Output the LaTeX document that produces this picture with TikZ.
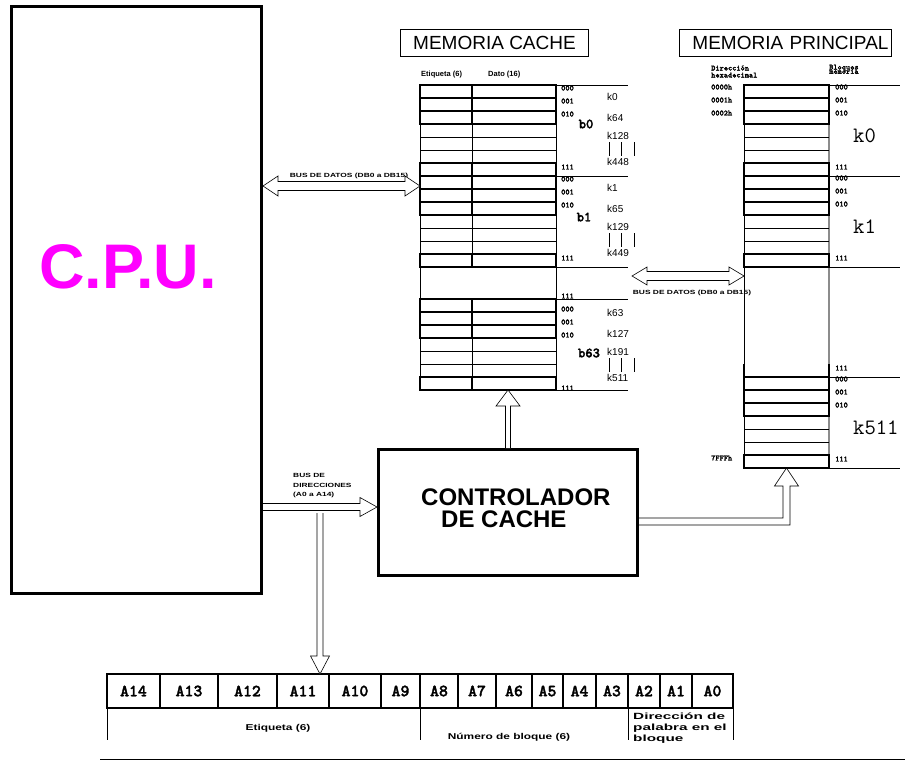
\documentclass[tikz,border=0pt]{standalone}
\usepackage{fontspec}
\setmainfont{Liberation Sans}
\newfontfamily\widesf[FakeStretch=1.4]{Liberation Sans}
\newfontfamily\widersf[FakeStretch=1.7]{Liberation Sans}
\newfontfamily\monobf[FakeBold=2]{lmmonolt10-bold.otf}
\usepackage{tikz}
\usetikzlibrary{calc}
\usetikzlibrary{positioning}

\definecolor{cpupink}{RGB}{255,0,255}
\definecolor{edgegray}{RGB}{140,140,140}

\newcommand{\fatS}{3pt}
\newcommand{\fatH}{9pt}
\newcommand{\fatL}{16pt}

\tikzset{
  fatshaft/.store in=\fatS,
  fathead/.store in=\fatH,
  fatlen/.store in=\fatL,
  % hollow bus arrows
  fatright/.style={to path={let \p1=(\tikztostart), \p2=(\tikztotarget) in
    (\x1,\y1+\fatS) -- (\x2-\fatL,\y1+\fatS) -- (\x2-\fatL,\y1+\fatH)
    -- (\x2,\y1) -- (\x2-\fatL,\y1-\fatH) -- (\x2-\fatL,\y1-\fatS) -- (\x1,\y1-\fatS)}},
  fatboth/.style={to path={let \p1=(\tikztostart), \p2=(\tikztotarget) in
    (\x1,\y1) -- (\x1+\fatL,\y1+\fatH) -- (\x1+\fatL,\y1+\fatS) -- (\x2-\fatL,\y1+\fatS)
    -- (\x2-\fatL,\y1+\fatH) -- (\x2,\y1) -- (\x2-\fatL,\y1-\fatH) -- (\x2-\fatL,\y1-\fatS)
    -- (\x1+\fatL,\y1-\fatS) -- (\x1+\fatL,\y1-\fatH) -- cycle}},
  fatup/.style={to path={let \p1=(\tikztostart), \p2=(\tikztotarget) in
    (\x1-\fatS,\y1) -- (\x1-\fatS,\y2-\fatL) -- (\x1-\fatH,\y2-\fatL) -- (\x1,\y2)
    -- (\x1+\fatH,\y2-\fatL) -- (\x1+\fatS,\y2-\fatL) -- (\x1+\fatS,\y1)}},
  fatdown/.style={to path={let \p1=(\tikztostart), \p2=(\tikztotarget) in
    (\x1-\fatS,\y1) -- (\x1-\fatS,\y2+\fatL) -- (\x1-\fatH,\y2+\fatL) -- (\x1,\y2)
    -- (\x1+\fatH,\y2+\fatL) -- (\x1+\fatS,\y2+\fatL) -- (\x1+\fatS,\y1)}},
  fatbend/.style={to path={let \p1=(\tikztostart), \p2=(\tikztotarget) in
    (\x1,\y1+\fatS) -- (\x2-\fatS,\y1+\fatS) -- (\x2-\fatS,\y2-\fatL) -- (\x2-\fatH,\y2-\fatL)
    -- (\x2,\y2) -- (\x2+\fatH,\y2-\fatL) -- (\x2+\fatS,\y2-\fatL) -- (\x2+\fatS,\y1-\fatS)
    -- (\x1,\y1-\fatS)}}
}

\begin{document}
\begin{tikzpicture}[x=1pt, y=-1pt,
  box/.style={draw, line width=3pt, inner sep=0pt},
  area/.style={inner sep=0pt, outer sep=0pt},
  titlebox/.style={draw, line width=1pt, minimum height=27pt, inner sep=3pt,
    font=\fontsize{19}{22}\selectfont},
  hdr/.style={inner sep=0pt, anchor=west, font=\bfseries\fontsize{7.5}{9}\selectfont},
  buslbl/.style={inner sep=0pt, font=\widesf\bfseries\fontsize{6}{9.5}\selectfont},
  word/.style={inner sep=0pt, anchor=west, font=\monobf\fontsize{8}{7}\selectfont},
  klbl/.style={inner sep=0pt, anchor=west, font=\fontsize{10}{12}\selectfont},
  blbl/.style={inner sep=0pt, font=\monobf\fontsize{14}{14}\selectfont},
  kbig/.style={inner sep=0pt, anchor=west, font=\ttfamily\fontsize{22}{22}\selectfont},
  regcell/.style={draw, line width=1.2pt, inner sep=0pt, outer sep=0pt, minimum height=34pt,
    font=\monobf\fontsize{17}{17}\selectfont},
  field/.style={inner sep=0pt, font=\widesf\bfseries\fontsize{8.5}{10}\selectfont},
  thinline/.style={line width=0.7pt},
  thickline/.style={line width=1.6pt},
  grayline/.style={line width=1.8pt, draw=edgegray},
  fatarrow/.style={draw, line width=0.6pt, fill=white, line join=miter}
]
\useasboundingbox (0,0) rectangle (908,760);

% CPU
\node[box, minimum width=250pt, minimum height=587pt, anchor=north west] (cpu) at (10,5) {};
\node[font=\bfseries\fontsize{63}{63}\selectfont, text=cpupink, inner sep=0pt] (cpulbl) at (128,267) {C.P.U.};

% titles
\node[titlebox, minimum width=188pt, anchor=north west] (cachetitle) at (400,29) {MEMORIA CACHE};
\node[titlebox, minimum width=212pt, text width=206pt, align=right, anchor=north west] (maintitle) at (679,29) {MEMORIA PRINCIPAL};

% cache memory
\node[area, minimum width=136pt, minimum height=305pt, anchor=north west] (cache) at (420,85) {};
\node[hdr] (etqhdr) at (421,75) {Etiqueta (6)};
\node[hdr] (datohdr) at (488,75) {Dato (16)};
\foreach \bt in {85,176,299} {
  \draw[thinline] (420,\bt) rectangle (556,\bt+91) (472,\bt) -- (472,\bt+91);
  \foreach \r in {4,5} \draw[thinline] (420,\bt+13*\r) -- (556,\bt+13*\r);
  \draw[thickline] (420,\bt) rectangle (556,\bt+39) (420,\bt+13) -- (556,\bt+13)
    (420,\bt+26) -- (556,\bt+26) (472,\bt) -- (472,\bt+39);
  \draw[thickline] (420,\bt+78) rectangle (556,\bt+91) (472,\bt+78) -- (472,\bt+91);
}
\draw[thinline] (420,267) -- (420,299) (556,267) -- (556,299);
\foreach \y in {85,176,267,299,390} \draw[thinline] (556,\y) -- (628,\y);
\foreach \bt/\wo/\ko/\bn/\bx/\by/\ka/\kb/\kc/\kd in
  {85/0/0/b0/586/39/k0/k64/k128/k448,
   176/0/0/b1/584/41/k1/k65/k129/k449,
   299/7/2/b63/589/54/k63/k127/k191/k511} {
  \node[word] (\bn-w0) at (561,\bt+3+\wo) {000};
  \node[word] (\bn-w1) at (561,\bt+16+\wo) {001};
  \node[word] (\bn-w2) at (561,\bt+29+\wo) {010};
  \node[word] (\bn-w7) at (561,\bt+82+\wo) {111};
  \node[blbl] (\bn-lbl) at (\bx,\bt+\by) {\bn};
  \node[klbl] (\bn-ka) at (607,\bt+12+\ko) {\ka};
  \node[klbl] (\bn-kb) at (607,\bt+33+\ko) {\kb};
  \node[klbl] (\bn-kc) at (607,\bt+51+\ko) {\kc};
  \node[klbl] (\bn-kd) at (607,\bt+77+\ko) {\kd};
  \draw[thinline] (609,\bt+57+\ko) -- ++(0,14) (621.5,\bt+57+\ko) -- ++(0,14)
    (634,\bt+57+\ko) -- ++(0,14);
}
\node[word] (cgap111) at (561,296) {111};

% main memory
\node[area, minimum width=85pt, minimum height=383pt, anchor=north west] (mainmem) at (744,85) {};
\draw[grayline] (829,85) -- (829,468);
\draw[thinline] (744,85) -- (744,468);
\foreach \bt in {85,176,377} {
  \foreach \r in {4,5} \draw[thinline] (744,\bt+13*\r) -- (829,\bt+13*\r);
  \draw[thickline] (744,\bt) rectangle (829,\bt+39) (744,\bt+13) -- (829,\bt+13)
    (744,\bt+26) -- (829,\bt+26);
  \draw[thickline] (744,\bt+78) rectangle (829,\bt+91);
}
\draw[thickline] (744,364) -- (744,377) (829,364) -- (829,377);
\foreach \y in {85,176,267,377,468} \draw[thinline] (829,\y) -- (900,\y);
\foreach \bt/\kn in {85/k0,176/k1,377/k511} {
  \node[word] (\kn-w0) at (835,\bt+2) {000};
  \node[word] (\kn-w1) at (835,\bt+15) {001};
  \node[word] (\kn-w2) at (835,\bt+28) {010};
  \node[word] (\kn-w7) at (835,\bt+82) {111};
  \node[kbig] (\kn-lbl) at (853,\bt+51) {\kn};
}
\node[word] (mgap111) at (835,368) {111};
\node[word, align=left] (hexhdr) at (711,71.5) {Dirección\\hexadecimal};
\node[word] (blqhdr) at (829,68) {Bloques};
\node[word] (memhdr) at (829,71.5) {memoria};
\node[word] (hex0) at (711,87) {0000h};
\node[word] (hex1) at (711,100) {0001h};
\node[word] (hex2) at (711,113) {0002h};
\node[word] (hexlast) at (711,458) {7FFFh};

% controller
\node[box, minimum width=259pt, minimum height=126pt, anchor=north west] (ctrl) at (377,448) {};
\node[anchor=west, align=left, inner sep=0pt, font=\bfseries\fontsize{24}{22}\selectfont] (ctrllbl)
  at (421,508) {CONTROLADOR\\\hspace*{20pt}DE CACHE};

% address register
\foreach \nm/\xa/\xb in {A14/107/160, A13/160/218, A12/218/277, A11/277/329, A10/329/381,
    A9/381/420, A8/420/458, A7/458/496, A6/496/532, A5/532/563, A4/563/596, A3/596/628,
    A2/628/660, A1/660/692, A0/692/733}
  \node[regcell, minimum width={(\xb-\xa)*1pt}] (r\nm) at ({(\xa+\xb)/2},691) {\nm};
\draw[line width=2.6pt] (rA14.north west) rectangle (rA0.south east);
\draw[thinline] (rA14.south west) -- ++(0,32) (rA8.south west) -- ++(0,32)
  (rA2.south west) -- ++(0,32) (rA0.south east) -- ++(0,32);
\node[field] (fetq) at (278,728) {Etiqueta (6)};
\node[field] (fblk) at (509,737) {Número de bloque (6)};
\node[anchor=north west, align=left, inner sep=0pt,
  font=\widersf\bfseries\fontsize{9}{10.8}\selectfont] (fpal) at (633,713)
  {Dirección de\\palabra en el\\bloque};
\draw[thinline] (100,759) -- (905,759);

% buses
\node[buslbl] (dbus1lbl) at (349,175.5) {BUS DE DATOS (DB0 a DB15)};
\node[buslbl] (dbus2lbl) at (692,293) {BUS DE DATOS (DB0 a DB15)};
\node[buslbl, anchor=north west, align=left] (abuslbl) at (293,473.5) {BUS DE\\DIRECCIONES\\(A0 a A14)};
\coordinate (dbus1) at (300,186);
\coordinate (dbus2) at (632,276);
\coordinate (abus) at (300,507);
\coordinate (abranch) at (320,513);
\draw[fatarrow, fatboth, fatshaft=4.5pt, fathead=10pt, fatlen=15pt] (cpu.east |- dbus1) to (cache.west |- dbus1);
\draw[fatarrow, fatboth, fatshaft=4.5pt, fathead=9pt, fatlen=15pt] (dbus2) to (mainmem.west |- dbus2);
\draw[fatarrow, fatright, fatshaft=3.5pt, fathead=9.5pt, fatlen=17pt] (cpu.east |- abus) to (ctrl.west |- abus);
\draw[fatarrow, fatdown, fatshaft=3pt, fathead=9.5pt, fatlen=18pt] (abranch) to (rA11.north);
\draw[fatarrow, fatup, fatshaft=2.5pt, fathead=12pt, fatlen=16pt] (ctrl.north) to (cache.south);
\draw[fatarrow, fatbend, fatshaft=3.5pt, fathead=12pt, fatlen=18pt] ([yshift=-9pt]ctrl.east) to (mainmem.south);

\end{tikzpicture}
\end{document}
